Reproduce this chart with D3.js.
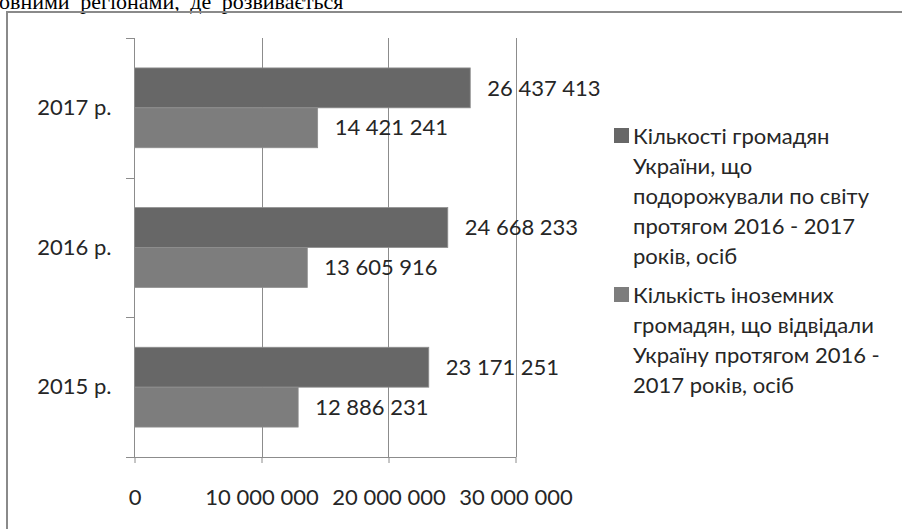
<!DOCTYPE html>
<html>
<head>
<meta charset="utf-8">
<script src="https://cdn.jsdelivr.net/npm/d3@7"></script>
<style>
  body { margin: 0; background: #fff; }
  svg { display: block; }
</style>
</head>
<body>
<div id="chart"></div>
<script>
var w = 902,
	h = 529;

//Categories, bottom to top as on the page
var categories = ["2015 р.", "2016 р.", "2017 р."];

//Legend titles, each split into its lines
var seriesNames = [
  ["Кількості громадян", "України, що", "подорожували по світу", "протягом 2016 - 2017", "років, осіб"],
  ["Кількість іноземних", "громадян, що відвідали", "Україну протягом 2016 -", "2017 років, осіб"]
];

//Data
var travelled = [23171251, 24668233, 26437413];
var visited = [12886231, 13605916, 14421241];
var xTicks = [0, 10000000, 20000000, 30000000];

var colors = ["#676767", "#7d7d7d"];
var font = "Lato, 'Open Sans', sans-serif";
var txtColor = "#262626";

var fmt = d3.formatLocale({decimal: ",", thousands: " ", grouping: [3], currency: ["", ""]}).format(",d");

var svg = d3.select("#chart")
	.append("svg")
	.attr("width", w)
	.attr("height", h);

//piece of the document text above the chart
svg.append("text")
	.attr("x", -1)
	.attr("y", 9)
	.attr("font-family", "'Liberation Serif', serif")
	.attr("font-size", "22px")
	.attr("fill", "#000")
	.attr("word-spacing", "5px")
	.text("овними регіонами, де розвивається");

//chart border (cropped on right and bottom)
svg.append("path")
	.attr("d", "M7,600V12H920")
	.attr("fill", "none")
	.attr("stroke", "#8a8a8a")
	.attr("stroke-width", 2);

//scales
var x = d3.scaleLinear()
	.domain([0, 30000000])
	.range([134.5, 515.5]);

var y = d3.scaleBand()
	.domain(categories.slice().reverse())
	.range([38, 457]);

var barH = y.bandwidth() / 3.5;
var inner = d3.scaleBand()
	.domain([0, 1])
	.range([barH * 0.75, barH * 2.75]);

//gridlines
svg.append("g")
	.selectAll("line")
	.data(xTicks.slice(1))
	.enter()
	.append("line")
	.attr("x1", function(d){ return Math.round(x(d)) + 0.5; })
	.attr("x2", function(d){ return Math.round(x(d)) + 0.5; })
	.attr("y1", 38)
	.attr("y2", 457)
	.attr("stroke", "#8c8c8c");

//bars
var series = [travelled, visited];
var rows = categories.map(function(c, i){
  return series.map(function(s, k){ return {cat: c, k: k, value: s[i]}; });
});

var bars = svg.append("g")
	.selectAll("g")
	.data(rows)
	.enter()
	.append("g")
	.attr("transform", function(d){ return "translate(0," + y(d[0].cat) + ")"; });

bars.selectAll("rect")
	.data(function(d){ return d; })
	.enter()
	.append("rect")
	.attr("x", x(0))
	.attr("y", function(d){ return inner(d.k); })
	.attr("width", function(d){ return x(d.value) - x(0); })
	.attr("height", inner.bandwidth())
	.attr("fill", function(d){ return colors[d.k]; })
	.attr("stroke", "#8e8e8e")
	.attr("stroke-width", 0.8);

bars.selectAll("text")
	.data(function(d){ return d; })
	.enter()
	.append("text")
	.attr("x", function(d){ return x(d.value) + 17; })
	.attr("y", function(d){ return inner(d.k) + inner.bandwidth() / 2; })
	.attr("dy", "0.35em")
	.attr("font-family", font)
	.attr("font-size", "22px")
	.attr("fill", txtColor)
	.text(function(d){ return fmt(d.value); });

//x axis
var gx = svg.append("g")
	.attr("transform", "translate(0,457)")
	.call(d3.axisBottom(x).tickValues(xTicks).tickSize(6).tickSizeOuter(0).tickPadding(26).tickFormat(fmt));
gx.select(".domain").remove();
gx.selectAll(".tick line").attr("stroke", "#8c8c8c");
gx.selectAll("text")
	.attr("font-family", font)
	.attr("font-size", "22px")
	.attr("fill", txtColor);
svg.append("line")
	.attr("x1", 126)
	.attr("x2", x(30000000) + 0.5)
	.attr("y1", 457.5)
	.attr("y2", 457.5)
	.attr("stroke", "#8c8c8c");

//y axis
var gy = svg.append("g")
	.attr("transform", "translate(134.5,0)")
	.call(d3.axisLeft(y).tickSize(0).tickPadding(23));
gy.select(".domain").attr("stroke", "#8c8c8c").attr("d", "M0,38V457");
gy.selectAll("text")
	.attr("font-family", font)
	.attr("font-size", "22px")
	.attr("fill", txtColor);

//category tick marks at band edges
svg.append("g")
	.selectAll("line")
	.data(y.domain())
	.enter()
	.append("line")
	.attr("x1", 126)
	.attr("x2", 134.5)
	.attr("y1", function(d){ return Math.round(y(d)) + 0.5; })
	.attr("y2", function(d){ return Math.round(y(d)) + 0.5; })
	.attr("stroke", "#8c8c8c");

////////////////////////////////////////////
/////////// Initiate legend ////////////////
////////////////////////////////////////////

var lineH = 30;
var legendTop = [136, 295];

var legend = svg.append("g")
	.attr("class", "legend")
	.selectAll("g")
	.data(seriesNames)
	.enter()
	.append("g")
	.attr("transform", function(d, i){ return "translate(614," + legendTop[i] + ")"; });

	//colour squares
	legend.append("rect")
	  .attr("x", 0)
	  .attr("y", -8)
	  .attr("width", 15)
	  .attr("height", 15)
	  .attr("fill", function(d, i){ return colors[i]; });

	//text lines next to squares
	legend.selectAll("text")
	  .data(function(d){ return d; })
	  .enter()
	  .append("text")
	  .attr("x", 19)
	  .attr("y", function(d, i){ return i * lineH; })
	  .attr("dy", "0.35em")
	  .attr("font-family", font)
	  .attr("font-size", "22px")
	  .attr("fill", txtColor)
	  .text(function(d){ return d; });
</script>
</body>
</html>
